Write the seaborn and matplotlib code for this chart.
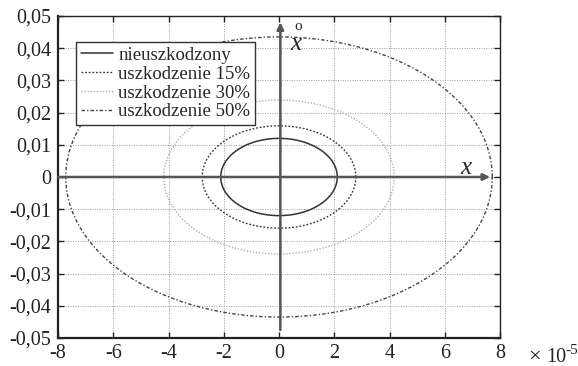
import numpy as np
import pandas as pd
import matplotlib
matplotlib.use("Agg")
import matplotlib.pyplot as plt
import seaborn as sns

# Data: ellipse semi-axes (x in 1e-5 units, y = velocity)
series = ["nieuszkodzony", "uszkodzenie 15%", "uszkodzenie 30%", "uszkodzenie 50%"]
semi_x = [2.11, 2.78, 4.17, 7.72]
semi_y = [0.0120, 0.0159, 0.0239, 0.0435]
x_ticks = [-8, -6, -4, -2, 0, 2, 4, 6, 8]
y_ticks = [-0.05, -0.04, -0.03, -0.02, -0.01, 0, 0.01, 0.02, 0.03, 0.04, 0.05]
y_tick_labels = ["-0,05", "-0,04", "-0,03", "-0,02", "-0,01", "0", "0,01", "0,02", "0,03", "0,04", "0,05"]

sns.set_style("white")
plt.rcParams['font.family'] = ['Liberation Serif', 'DejaVu Serif']

t = np.linspace(0, 2 * np.pi, 721)
frames = []
for name, a, b in zip(series, semi_x, semi_y):
    frames.append(pd.DataFrame({"x": a * np.cos(t), "y": b * np.sin(t), "series": name, "order": np.arange(len(t))}))
df = pd.concat(frames, ignore_index=True)

fig = plt.figure(figsize=(5.78, 3.66), dpi=100)
ax = fig.add_axes([58 / 578, 28 / 366, 442 / 578, 322 / 366])

styles = {
    "nieuszkodzony": dict(color="#333333", linestyle="-", linewidth=1.1),
    "uszkodzenie 15%": dict(color="#3a3a3a", linestyle=(0, (1.3, 1.3)), linewidth=1.0),
    "uszkodzenie 30%": dict(color="#b0b0b0", linestyle=(0, (1, 1.2)), linewidth=1.0),
    "uszkodzenie 50%": dict(color="#444444", linestyle=(0, (2.5, 1.5, 1, 1.5)), linewidth=1.0),
}

for name in series:
    sub = df[df["series"] == name]
    sns.lineplot(data=sub, x="x", y="y", sort=False, estimator=None, ax=ax,
                 label=name, **styles[name])

ax.set_xlim(-8, 8)
ax.set_ylim(-0.05, 0.05)
ax.set_xticks(x_ticks)
ax.set_xticklabels([str(v) for v in x_ticks])
ax.set_yticks(y_ticks)
ax.set_yticklabels(y_tick_labels)
ax.set_xlabel("")
ax.set_ylabel("")
ax.grid(True, color="#999999", linestyle=(0, (1, 1.5)), linewidth=0.7)
ax.tick_params(direction="in", length=4, width=1, labelsize=14.5, colors="#222222",
               top=True, right=True, bottom=True, left=True)
ax.tick_params(axis="x", pad=4)
ax.tick_params(axis="y", pad=5)
for side in ["left", "bottom"]:
    ax.spines[side].set_linewidth(1.6)
for side in ["top", "right"]:
    ax.spines[side].set_linewidth(1.0)
for s in ax.spines.values():
    s.set_color("#222222")

# Axis arrows through origin
ax.annotate("", xy=(7.64, 0), xytext=(-8, 0),
            arrowprops=dict(arrowstyle="-|>", color="#555555", lw=1.8, mutation_scale=10,
                            shrinkA=0, shrinkB=0))
ax.annotate("", xy=(0.05, 0.048), xytext=(0.05, -0.0475),
            arrowprops=dict(arrowstyle="-|>", color="#555555", lw=1.8, mutation_scale=10,
                            shrinkA=0, shrinkB=0))
ax.text(6.78, 0.0028, "x", fontsize=18, style="italic", ha="center", va="center")
ax.text(0.62, 0.0412, "x", fontsize=18, style="italic", ha="center", va="center")
ax.text(0.68, 0.0468, "o", fontsize=11, ha="center", va="center")

leg = ax.legend(loc="upper left", bbox_to_anchor=(0.041, 0.919), fontsize=13.5,
                frameon=True, fancybox=False, handlelength=1.7, handletextpad=0.3,
                borderpad=0.25, labelspacing=0.09, borderaxespad=0)
leg.get_frame().set_edgecolor("#333333")
leg.get_frame().set_linewidth(1.0)
leg.get_frame().set_alpha(1)

fig.text(528 / 578, 1 - 357 / 366, "×", fontsize=16, ha="left", va="center")
fig.text(546 / 578, 1 - 357 / 366, "10", fontsize=14.5, ha="left", va="center")
fig.text(565 / 578, 1 - 350 / 366, "-5", fontsize=11, ha="left", va="center")

fig.savefig("out.png", dpi=100)
